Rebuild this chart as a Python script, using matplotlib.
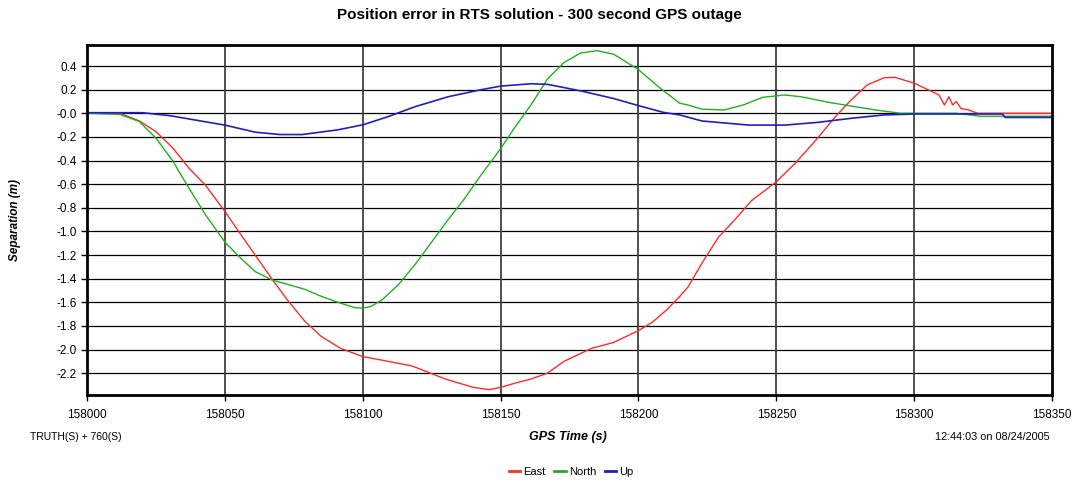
import matplotlib.pyplot as plt

# GPS time (s) and separation (m)
t_east = [158000, 158012, 158019, 158025, 158031, 158037, 158043, 158050, 158055,
          158061, 158067, 158073, 158079, 158085, 158092, 158100, 158107, 158118,
          158130, 158140, 158146, 158150, 158156, 158161, 158167, 158173, 158183,
          158191, 158200, 158205, 158210, 158215, 158218, 158223, 158229, 158235,
          158241, 158250, 158257, 158265, 158271, 158277, 158283, 158289, 158293,
          158300, 158305, 158309, 158311, 158312.6, 158314, 158315.3, 158317,
          158319.5, 158323, 158330, 158350]
east = [0.0, 0.0, -0.065, -0.155, -0.29, -0.465, -0.61, -0.83, -1.0,
        -1.2, -1.4, -1.59, -1.76, -1.89, -1.99, -2.06, -2.09, -2.14,
        -2.25, -2.32, -2.34, -2.32, -2.28, -2.25, -2.2, -2.1, -1.99,
        -1.94, -1.84, -1.77, -1.67, -1.55, -1.47, -1.27, -1.05, -0.9,
        -0.74, -0.58, -0.42, -0.21, -0.04, 0.11, 0.24, 0.30, 0.305,
        0.255, 0.2, 0.155, 0.07, 0.14, 0.07, 0.1, 0.04,
        0.03, 0.0, 0.0, 0.0]

t_north = [158000, 158012, 158019, 158025, 158031, 158037, 158043, 158050, 158055,
           158061, 158067, 158073, 158079, 158085, 158091, 158097, 158100, 158103,
           158107, 158113, 158119, 158125, 158131, 158137, 158143, 158150, 158155,
           158161, 158167, 158173, 158179, 158185, 158191, 158200, 158208, 158215,
           158218, 158223, 158231, 158238, 158245, 158253, 158259, 158269, 158277,
           158286, 158295, 158315, 158324, 158350]
north = [0.0, -0.01, -0.07, -0.21, -0.4, -0.635, -0.86, -1.09, -1.21,
         -1.34, -1.41, -1.45, -1.49, -1.55, -1.6, -1.645, -1.65, -1.635,
         -1.58, -1.45, -1.28, -1.09, -0.9, -0.72, -0.52, -0.3, -0.125,
         0.07, 0.29, 0.43, 0.51, 0.53, 0.5, 0.37, 0.21, 0.085,
         0.07, 0.035, 0.028, 0.07, 0.135, 0.155, 0.14, 0.093, 0.062,
         0.028, 0.0, 0.0, -0.025, -0.025]

t_up = [158000, 158020, 158030, 158050, 158061, 158070, 158078, 158091, 158100,
        158109, 158119, 158131, 158143, 158150, 158161, 158167, 158179, 158191,
        158200, 158209, 158215, 158223, 158240, 158253, 158265, 158277, 158289,
        158300, 158332, 158333, 158350]
up = [0.005, 0.005, -0.02, -0.1, -0.16, -0.18, -0.18, -0.14, -0.098,
      -0.03, 0.056, 0.14, 0.2, 0.23, 0.25, 0.245, 0.19, 0.125,
      0.065, 0.008, -0.014, -0.065, -0.1, -0.1, -0.077, -0.043, -0.014,
      -0.006, -0.006, -0.035, -0.035]

y_ticks = [0.4, 0.2, 0.0, -0.2, -0.4, -0.6, -0.8, -1.0, -1.2, -1.4, -1.6, -1.8, -2.0, -2.2]
y_labels = ["0.4", "0.2", "-0.0", "-0.2", "-0.4", "-0.6", "-0.8", "-1.0", "-1.2",
            "-1.4", "-1.6", "-1.8", "-2.0", "-2.2"]
x_ticks = [158000, 158050, 158100, 158150, 158200, 158250, 158300, 158350]

plt.rcParams['font.family'] = ['Liberation Sans', 'DejaVu Sans']

fig = plt.figure(figsize=(10.78, 4.83), dpi=100)
ax = fig.add_axes([0.0807, 0.1822, 0.8952, 0.7246])

ax.plot(t_east, east, color='#ff2a2a', lw=1.0, label='East')
ax.plot(t_north, north, color='#20b020', lw=1.0, label='North')
ax.plot(t_up, up, color='#2020c0', lw=1.2, label='Up')

ax.set_xlim(158000, 158350)
ax.set_ylim(-2.385, 0.578)
ax.set_yticks(y_ticks)
ax.set_yticklabels(y_labels)
ax.set_xticks(x_ticks)
ax.set_xticklabels([str(x) for x in x_ticks])
ax.tick_params(labelsize=8.5, length=4, width=1, color='black')
ax.tick_params(axis='x', pad=6)

for y in y_ticks:
    ax.axhline(y, color='black', lw=0.9, zorder=0.5)
for x in x_ticks[1:-1]:
    ax.axvline(x, color='#404040', lw=1.3, zorder=0.5)

for s in ax.spines.values():
    s.set_linewidth(2)
    s.set_color('black')

fig.text(0.5, 0.968, "Position error in RTS solution - 300 second GPS outage",
         ha='center', va='center', fontsize=11, fontweight='bold')
fig.text(0.014, 0.545, "Separation (m)", rotation=90, ha='center', va='center',
         fontsize=8.5, fontweight='bold', fontstyle='italic')
fig.text(0.527, 0.095, "GPS Time (s)", ha='center', va='center',
         fontsize=9, fontweight='bold', fontstyle='italic')
fig.text(0.028, 0.095, "TRUTH(S) + 760(S)", ha='left', va='center', fontsize=7.5)
fig.text(0.974, 0.095, "12:44:03 on 08/24/2005", ha='right', va='center', fontsize=7.8)

fig.legend(loc='center', bbox_to_anchor=(0.53, 0.023), ncol=3, frameon=False,
           fontsize=8, handlelength=1.0, handletextpad=0.3, columnspacing=0.8)
for line in fig.legends[0].get_lines():
    line.set_linewidth(2)

fig.savefig('out.png', dpi=100)
